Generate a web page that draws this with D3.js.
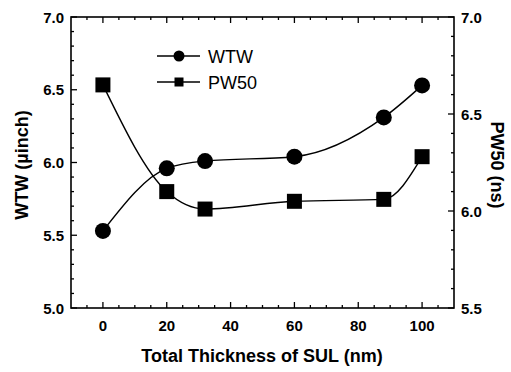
<!DOCTYPE html>
<html><head><meta charset="utf-8">
<script src="https://cdn.jsdelivr.net/npm/d3@7"></script>
<style>
body{margin:0;background:#fff;}
svg{display:block;font-family:"Liberation Sans",Arial,sans-serif;}
</style></head>
<body><svg id="c" width="511" height="372"></svg>
<script>
const thickness = [0, 20, 32, 60, 88, 100];
const wtw = [5.53, 5.96, 6.01, 6.04, 6.31, 6.53];
const pw50 = [6.65, 6.10, 6.01, 6.05, 6.06, 6.28];
const xTicks = [0, 20, 40, 60, 80, 100];
const yLeftTicks = [5.0, 5.5, 6.0, 6.5, 7.0];
const yRightTicks = [5.5, 6.0, 6.5, 7.0];
const seriesNames = ["WTW", "PW50"];

const svg = d3.select("#c");
const L = 71, R = 454, T = 17, B = 308;
const x = d3.scaleLinear().domain([-10, 110]).range([L, R]);
const yL = d3.scaleLinear().domain([5.0, 7.0]).range([B, T]);
const yR = d3.scaleLinear().domain([5.5, 7.0]).range([B, T]);

// frame
svg.append("rect").attr("x", L).attr("y", T).attr("width", R - L).attr("height", B - T)
  .attr("fill", "none").attr("stroke", "#000").attr("stroke-width", 1.6);

// ticks
const xMinor = d3.range(-5, 110, 5);
xMinor.forEach(v => {
  const major = v % 20 === 0 && v >= 0;
  const len = major ? 6 : 3;
  svg.append("line").attr("x1", x(v)).attr("x2", x(v)).attr("y1", B).attr("y2", B - len).attr("stroke", "#000").attr("stroke-width", 1.3);
  svg.append("line").attr("x1", x(v)).attr("x2", x(v)).attr("y1", T).attr("y2", T + len).attr("stroke", "#000").attr("stroke-width", 1.3);
});
d3.range(5.0, 7.001, 0.1).forEach(v => {
  const major = Math.abs(v * 2 - Math.round(v * 2)) < 1e-6;
  const len = major ? 6 : 3;
  svg.append("line").attr("x1", L).attr("x2", L + len).attr("y1", yL(v)).attr("y2", yL(v)).attr("stroke", "#000").attr("stroke-width", 1.3);
});
d3.range(5.5, 7.001, 0.1).forEach(v => {
  const major = Math.abs(v * 2 - Math.round(v * 2)) < 1e-6;
  const len = major ? 6 : 3;
  svg.append("line").attr("x1", R).attr("x2", R - len).attr("y1", yR(v)).attr("y2", yR(v)).attr("stroke", "#000").attr("stroke-width", 1.3);
});

// tick labels
const fmt = d3.format(".1f");
svg.selectAll(".xl").data(xTicks).enter().append("text")
  .attr("x", d => x(d)).attr("y", 331).attr("text-anchor", "middle")
  .attr("font-size", 15).attr("font-weight", "bold").text(d => d);
svg.selectAll(".yl").data(yLeftTicks).enter().append("text")
  .attr("x", 64).attr("y", d => yL(d) + 5.5).attr("text-anchor", "end")
  .attr("font-size", 15).attr("font-weight", "bold").text(fmt);
svg.selectAll(".yr").data(yRightTicks).enter().append("text")
  .attr("x", 461).attr("y", d => yR(d) + 5.5).attr("text-anchor", "start")
  .attr("font-size", 15).attr("font-weight", "bold").text(fmt);

// axis titles
svg.append("text").attr("x", 262).attr("y", 362).attr("text-anchor", "middle")
  .attr("font-size", 18).attr("font-weight", "bold").text("Total Thickness of SUL (nm)");
svg.append("text").attr("transform", "translate(28,165) rotate(-90)").attr("text-anchor", "middle")
  .attr("font-size", 18).attr("font-weight", "bold").text("WTW (µinch)");
svg.append("text").attr("transform", "translate(491,165) rotate(90)").attr("text-anchor", "middle")
  .attr("font-size", 18).attr("font-weight", "bold").text("PW50 (ns)");

// curves
const lineL = d3.line().x((d, i) => x(thickness[i])).y(d => yL(d)).curve(d3.curveMonotoneX);
const lineR = d3.line().x((d, i) => x(thickness[i])).y(d => yR(d)).curve(d3.curveMonotoneX);
svg.append("path").attr("d", lineL(wtw)).attr("fill", "none").attr("stroke", "#000").attr("stroke-width", 1.4);
svg.append("path").attr("d", lineR(pw50)).attr("fill", "none").attr("stroke", "#000").attr("stroke-width", 1.4);

// markers
svg.selectAll(".mc").data(wtw).enter().append("circle")
  .attr("cx", (d, i) => x(thickness[i])).attr("cy", d => yL(d)).attr("r", 8).attr("fill", "#000");
svg.selectAll(".ms").data(pw50).enter().append("rect")
  .attr("x", (d, i) => x(thickness[i]) - 7.5).attr("y", d => yR(d) - 7.5)
  .attr("width", 15).attr("height", 15).attr("fill", "#000");

// legend
const lg = [{name: seriesNames[0], y: 56, shape: "circle"}, {name: seriesNames[1], y: 82, shape: "square"}];
lg.forEach(d => {
  svg.append("line").attr("x1", 157).attr("x2", 200).attr("y1", d.y).attr("y2", d.y).attr("stroke", "#000").attr("stroke-width", 1.4);
  if (d.shape === "circle") svg.append("circle").attr("cx", 179).attr("cy", d.y).attr("r", 5.5).attr("fill", "#000");
  else svg.append("rect").attr("x", 174.5).attr("y", d.y - 4.5).attr("width", 9).attr("height", 9).attr("fill", "#000");
  svg.append("text").attr("x", 208).attr("y", d.y + 6.5).attr("font-size", 18).text(d.name);
});
</script></body></html>
